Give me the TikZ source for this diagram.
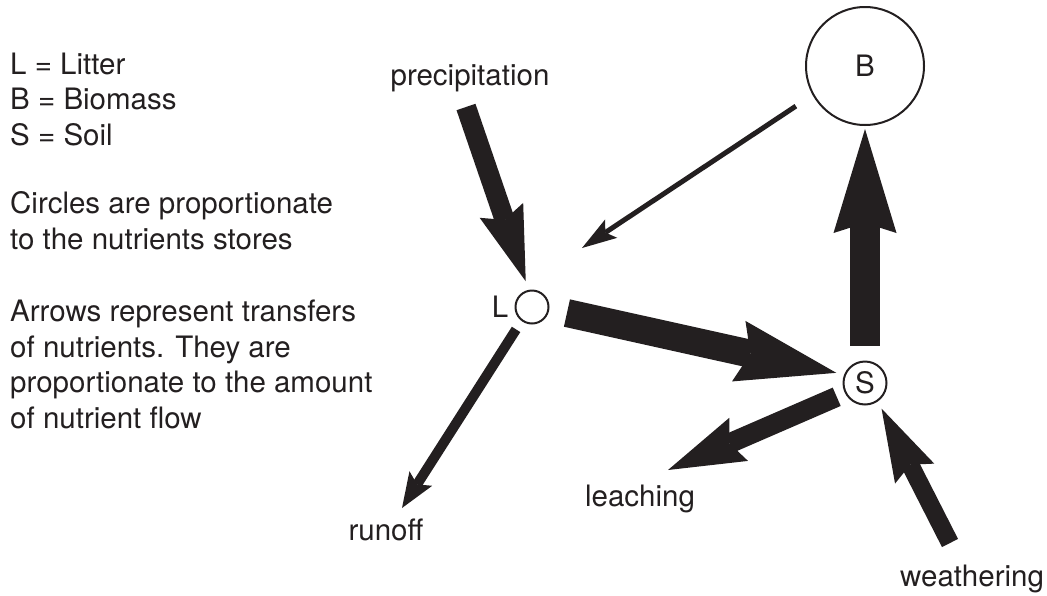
\documentclass[tikz,border=0pt]{standalone}
\usepackage{fontspec}
\setmainfont{TeX Gyre Heros}
\usetikzlibrary{arrows.meta,positioning}
\definecolor{ink}{HTML}{231F20}

\tikzset{
  store/.style={circle, draw=ink, line width=2pt, inner sep=0pt, text=ink},
  lbl/.style={text=ink, inner sep=0pt},
  flow/.style={draw=ink, line width=#1pt},
  head/.style n args={3}{-{Stealth[length=#1pt, width=#2pt, inset=#3pt, line width=0pt]}},
}

\begin{document}
\begin{tikzpicture}[x=1pt, y=-1pt, font=\fontsize{29.5}{35.5}\selectfont]
\useasboundingbox (0,0) rectangle (1047,595);

% key (base = last line)
\node[lbl, anchor=base west, align=left] (key) at (10,145) {L = Litter\\B = Biomass\\S = Soil};
\node[lbl, anchor=base west, align=left] (circles) at (10,249) {Circles are proportionate\\to the nutrients stores};
\node[lbl, anchor=base west, align=left] (arrows) at (10,428) {Arrows represent transfers\\of nutrients. They are\\proportionate to the amount\\of nutrient flow};

% stores
\node[store, minimum size=118pt] (B) at (865,66) {B};
\node[store, minimum size=33pt] (L) at (532,307) {};
\node[lbl, left=6pt of L] (Lname) {L};
\node[store, minimum size=43pt] (S) at (865,383) {S};

% inputs and outputs
\node[lbl, anchor=base] (precip) at (470,85) {precipitation};
\node[lbl, anchor=base] (runoff) at (386,540) {runoff};
\node[lbl, anchor=base] (leach) at (640,506) {leaching};
\node[lbl, anchor=base] (weather) at (972,586) {weathering};

\coordinate (rain) at (466,107);
\coordinate (fall) at (582,248);
\coordinate (drain) at (402,508);
\coordinate (wash) at (668,470);
\coordinate (rock) at (950,543);

% flows
\draw[flow=20, head={75}{46}{10}, shorten >=9pt] (rain) -- (L.101);
\draw[flow=5, head={35}{22}{7}, shorten <=20pt] (B.209.5) -- (fall);
\draw[flow=28, head={100}{62}{12}, shorten <=18pt, shorten >=8pt] (L.-7) -- (S.158);
\draw[flow=30, head={104}{63}{10}, shorten <=15pt, shorten >=3pt] (S.north) -- (B.south);
\draw[flow=20, head={77}{47}{10}, shorten <=9pt] (S.207) -- (wash);
\draw[flow=10, head={35}{27}{7}, shorten <=10pt] (L.233) -- (drain);
\draw[flow=18, head={73}{44}{10}, shorten >=8pt] (rock) -- (S.-55);
\end{tikzpicture}
\end{document}
